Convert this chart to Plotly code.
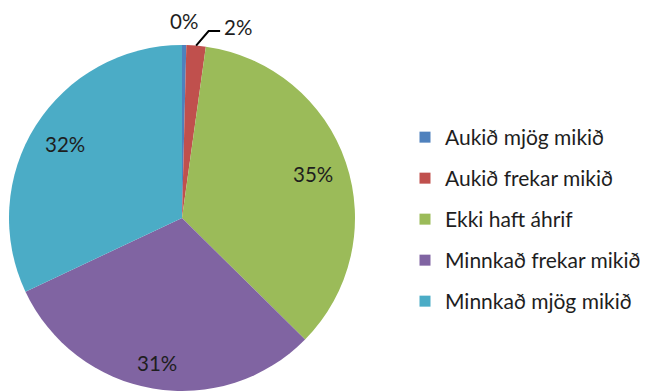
import math
import plotly.graph_objects as go

# Survey answers: how the situation has changed
categories = ["Aukið mjög mikið", "Aukið frekar mikið", "Ekki haft áhrif",
              "Minnkað frekar mikið", "Minnkað mjög mikið"]
shares = [0.4, 1.8, 35.2, 30.6, 32.0]
colors = ["#4F81BD", "#C0504D", "#9BBB59", "#8064A2", "#4BACC6"]

W, H = 646, 391
FONT = "Lato"
TEXT_COLOR = "#1e1e1e"

# pie placement (pixels)
pie_left, pie_right = 9, 355
pie_bottom_px, pie_top_px = 0, 346          # measured from the bottom edge
dom_x = [pie_left / W, pie_right / W]
dom_y = [pie_bottom_px / H, pie_top_px / H]
R = min(pie_right - pie_left, pie_top_px - pie_bottom_px) / 2
cx = (pie_left + pie_right) / 2
cy = (pie_bottom_px + pie_top_px) / 2       # from bottom

fig = go.Figure()
fig.add_trace(go.Pie(
    labels=categories, values=shares, sort=False, direction="clockwise",
    rotation=0, marker=dict(colors=colors, line=dict(width=0)),
    textinfo="none", showlegend=False, hoverinfo="label+percent",
    domain=dict(x=dom_x, y=dom_y),
))

# legend entries, one group each so they can be spaced apart
for name, col in zip(categories, colors):
    fig.add_trace(go.Scatter(
        x=[None], y=[None], mode="markers", name=name, legendgroup=name,
        marker=dict(symbol="square", size=11, color=col),
    ))


def to_paper(px, py_up):
    return px / W, py_up / H


total = sum(shares)
starts = []
acc = 0.0
for v in shares:
    starts.append(acc)
    acc += v
mid_angles = [math.radians((s + v / 2) / total * 360) for s, v in zip(starts, shares)]

# radial distance of each percentage label, as a fraction of the radius
label_r = [1.14, None, 0.80, 0.85, 0.80]
annotations = []
for i, (v, a) in enumerate(zip(shares, mid_angles)):
    pct = f"{round(v / total * 100):.0f}%"
    if label_r[i] is not None:
        px = cx + label_r[i] * R * math.sin(a)
        py = cy + label_r[i] * R * math.cos(a)
        x, y = to_paper(px, py)
        annotations.append(dict(x=x, y=y, xref="paper", yref="paper", text=pct,
                                showarrow=False, xanchor="center", yanchor="middle",
                                font=dict(family=FONT, size=20.5, color=TEXT_COLOR)))
    else:
        # small slice: label outside with a leader line
        sx = cx + R * math.sin(a)
        sy = cy + R * math.cos(a)
        ex, ey = sx + 12.5, sy + 14.5
        fx, fy = ex + 11.5, ey
        pts = [to_paper(sx, sy), to_paper(ex, ey), to_paper(fx, fy)]
        path = "M {} {} L {} {} L {} {}".format(*[c for p in pts for c in p])
        fig.add_shape(type="path", path=path, xref="paper", yref="paper",
                      line=dict(color="#000000", width=2))
        x, y = to_paper(fx + 1.5, fy + 4)
        annotations.append(dict(x=x, y=y, xref="paper", yref="paper", text=pct,
                                showarrow=False, xanchor="left", yanchor="middle",
                                font=dict(family=FONT, size=20.5, color=TEXT_COLOR)))

fig.update_layout(
    width=W, height=H,
    margin=dict(l=0, r=0, t=0, b=0),
    paper_bgcolor="white", plot_bgcolor="white",
    xaxis=dict(visible=False), yaxis=dict(visible=False),
    annotations=annotations,
    legend=dict(
        x=405 / W, y=1 - 117 / H, xanchor="left", yanchor="top",
        traceorder="grouped", tracegroupgap=10.7,
        font=dict(family=FONT, size=21, color=TEXT_COLOR),
        bgcolor="rgba(0,0,0,0)",
    ),
)

fig.write_html("out.html")
